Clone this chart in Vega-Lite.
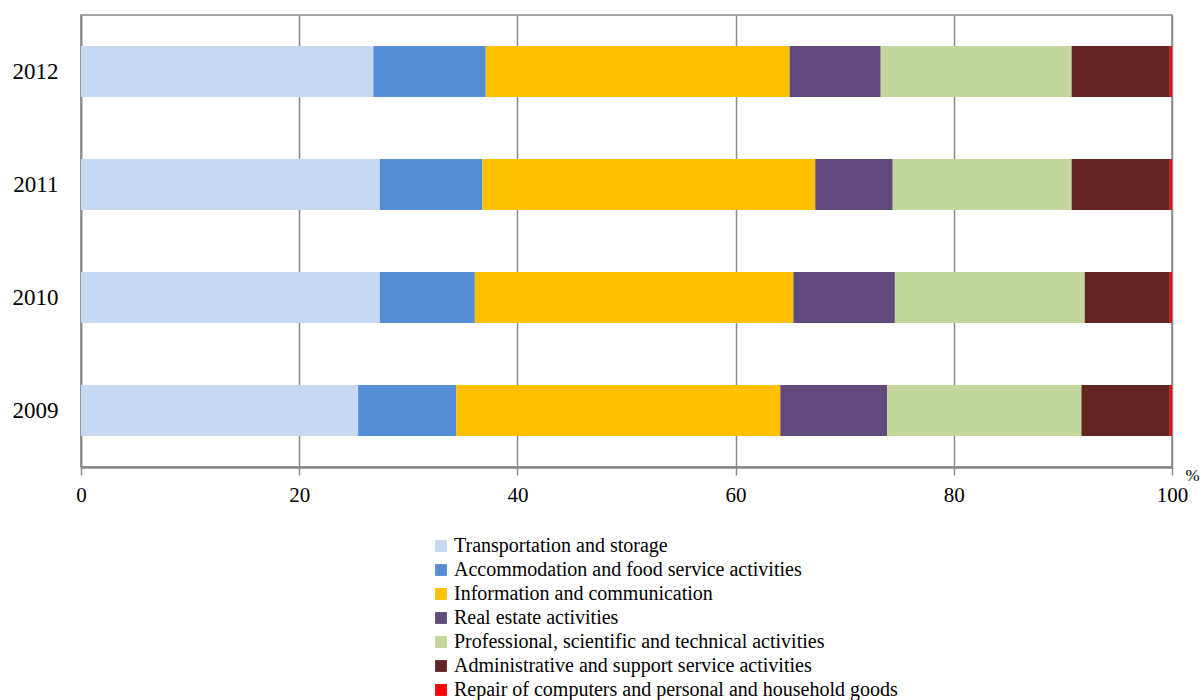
{
  "$schema": "https://vega.github.io/schema/vega-lite/v6.json",
  "width": 1091,
  "height": 452,
  "autosize": {"type": "none"},
  "padding": {"left": 81, "top": 15, "right": 32, "bottom": 233},
  "background": "white",
  "config": {
    "font": "Liberation Serif",
    "view": {"stroke": "#888888", "strokeWidth": 1.5},
    "axis": {"labelFont": "Liberation Serif", "titleFont": "Liberation Serif", "labelColor": "#000000", "titleColor": "#000000"}
  },
  "data": {
    "values": [
      {"year": "2012", "sector": "Transportation and storage", "k": 1, "value": 26.8},
      {"year": "2012", "sector": "Accommodation and food service activities", "k": 2, "value": 10.3},
      {"year": "2012", "sector": "Information and communication", "k": 3, "value": 27.85},
      {"year": "2012", "sector": "Real estate activities", "k": 4, "value": 8.35},
      {"year": "2012", "sector": "Professional, scientific and technical activities", "k": 5, "value": 17.5},
      {"year": "2012", "sector": "Administrative and support service activities", "k": 6, "value": 9.0},
      {"year": "2012", "sector": "Repair of computers and personal and household goods", "k": 7, "value": 0.2},
      {"year": "2011", "sector": "Transportation and storage", "k": 1, "value": 27.4},
      {"year": "2011", "sector": "Accommodation and food service activities", "k": 2, "value": 9.4},
      {"year": "2011", "sector": "Information and communication", "k": 3, "value": 30.5},
      {"year": "2011", "sector": "Real estate activities", "k": 4, "value": 7.1},
      {"year": "2011", "sector": "Professional, scientific and technical activities", "k": 5, "value": 16.4},
      {"year": "2011", "sector": "Administrative and support service activities", "k": 6, "value": 9.0},
      {"year": "2011", "sector": "Repair of computers and personal and household goods", "k": 7, "value": 0.2},
      {"year": "2010", "sector": "Transportation and storage", "k": 1, "value": 27.4},
      {"year": "2010", "sector": "Accommodation and food service activities", "k": 2, "value": 8.7},
      {"year": "2010", "sector": "Information and communication", "k": 3, "value": 29.2},
      {"year": "2010", "sector": "Real estate activities", "k": 4, "value": 9.3},
      {"year": "2010", "sector": "Professional, scientific and technical activities", "k": 5, "value": 17.4},
      {"year": "2010", "sector": "Administrative and support service activities", "k": 6, "value": 7.8},
      {"year": "2010", "sector": "Repair of computers and personal and household goods", "k": 7, "value": 0.2},
      {"year": "2009", "sector": "Transportation and storage", "k": 1, "value": 25.4},
      {"year": "2009", "sector": "Accommodation and food service activities", "k": 2, "value": 9.0},
      {"year": "2009", "sector": "Information and communication", "k": 3, "value": 29.7},
      {"year": "2009", "sector": "Real estate activities", "k": 4, "value": 9.8},
      {"year": "2009", "sector": "Professional, scientific and technical activities", "k": 5, "value": 17.8},
      {"year": "2009", "sector": "Administrative and support service activities", "k": 6, "value": 8.1},
      {"year": "2009", "sector": "Repair of computers and personal and household goods", "k": 7, "value": 0.2}
    ]
  },
  "mark": {"type": "bar"},
  "encoding": {
    "y": {
      "field": "year", "type": "nominal", "sort": "descending",
      "scale": {"paddingInner": 0.55, "paddingOuter": 0.275},
      "axis": {"title": null, "ticks": false, "domainColor": "#888888", "domainWidth": 1.5, "labelFontSize": 23, "labelPadding": 23, "labelAngle": 0}
    },
    "x": {
      "field": "value", "type": "quantitative", "stack": "zero",
      "scale": {"domain": [0, 100], "nice": false},
      "axis": {
        "values": [0, 20, 40, 60, 80, 100],
        "title": "%", "titleFontSize": 17, "titleFontWeight": "normal",
        "titleX": 1104, "titleY": 8, "titleAlign": "left", "titleBaseline": "middle", "titleAnchor": "start",
        "grid": true, "gridColor": "#888888", "gridWidth": 1.5,
        "domainColor": "#888888", "domainWidth": 2.5,
        "tickColor": "#888888", "tickSize": 8, "tickWidth": 1.5,
        "labelFontSize": 21, "labelPadding": 9, "labelFlush": false
      }
    },
    "color": {
      "field": "sector", "type": "nominal",
      "scale": {
        "domain": ["Transportation and storage", "Accommodation and food service activities", "Information and communication", "Real estate activities", "Professional, scientific and technical activities", "Administrative and support service activities", "Repair of computers and personal and household goods"],
        "range": ["#C6D9F1", "#558ED5", "#FFC000", "#604A7B", "#C3D69B", "#632523", "#FF0000"]
      },
      "legend": {
        "title": null, "orient": "none", "legendX": 350, "legendY": 521, "direction": "vertical",
        "symbolType": "square", "symbolSize": 140, "symbolStrokeWidth": 0,
        "labelFont": "Liberation Serif", "labelFontSize": 20, "labelColor": "#000000",
        "rowPadding": 4, "labelOffset": 3, "labelLimit": 0
      }
    },
    "order": {"field": "k", "type": "quantitative"}
  }
}
